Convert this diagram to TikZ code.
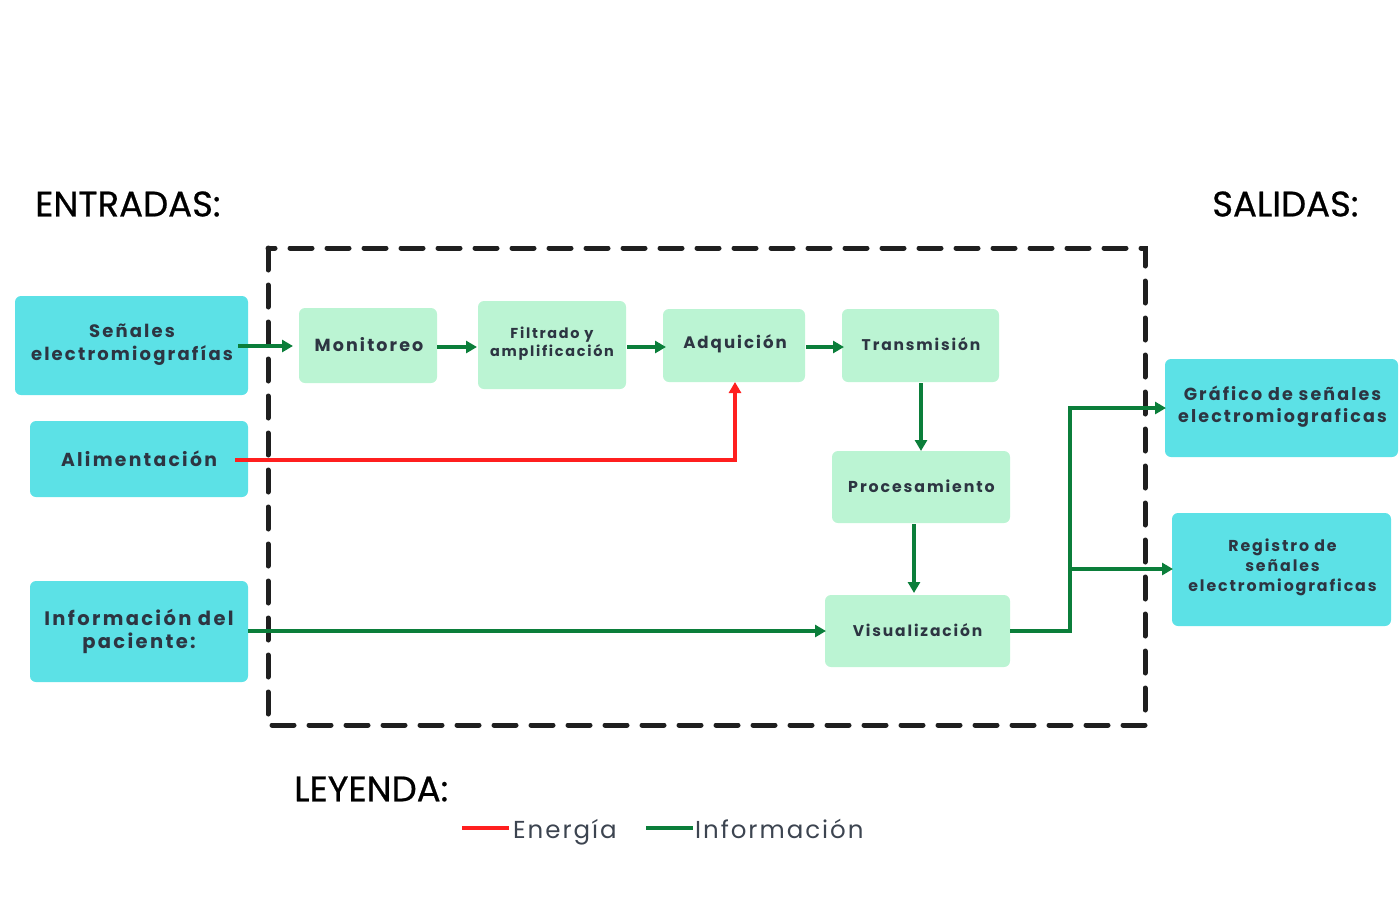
\documentclass[tikz,border=0pt]{standalone}
\usepackage{fontspec}
\setmainfont{Poppins}
\newfontfamily\boxfont[LetterSpace=12]{Poppins}
\newfontfamily\legfont[LetterSpace=8]{Poppins}
\newfontfamily\titlefont[FakeBold=0.6]{Poppins}
\usetikzlibrary{arrows.meta}
\definecolor{cyanbox}{HTML}{5CE1E6}
\definecolor{greenbox}{HTML}{BBF4D3}
\definecolor{infogreen}{HTML}{0B7E3A}
\definecolor{energyred}{HTML}{FF1F1F}
\definecolor{txt}{HTML}{2D3542}
\definecolor{legtxt}{HTML}{3C4450}
\tikzset{
  inbox/.style={fill=cyanbox, rounded corners=6pt},
  procbox/.style={fill=greenbox, rounded corners=6pt},
  lbl/.style={text=txt, align=center, inner sep=0pt},
  info/.style={draw=infogreen, line width=3.3pt, -{Triangle[length=11pt,width=12pt]}},
  energy/.style={draw=energyred, line width=3.3pt, -{Triangle[length=11pt,width=12pt]}},
  title/.style={font=\titlefont\fontsize{35.5}{38}\selectfont, text=black, anchor=west, inner sep=0pt},
  legendtxt/.style={font=\legfont\fontsize{24.5}{26}\selectfont, text=legtxt, anchor=base west, inner sep=0pt},
  border/.style={draw=black!88, line width=5pt, dash pattern=on 22pt off 15pt, line cap=round}
}
\newcommand{\bx}[2]{\boxfont\bfseries\fontsize{#1}{#2}\selectfont}
\begin{document}
\begin{tikzpicture}[x=1pt,y=-1pt]
\useasboundingbox (0,0) rectangle (1400,900);
% system boundary
\draw[border] (268,248) rectangle (1145,725);
% titles
\node[title] (entradas) at (35,204) {ENTRADAS:};
\node[title] (salidas) at (1212,204) {SALIDAS:};
\node[title] (leyenda) at (294,789) {LEYENDA:};
% inputs
\path[inbox] (15,296) rectangle (248,395);
\node[lbl, font=\bx{18}{23}] (senales) at (132,345) {Señales\\electromiografías};
\coordinate (senalesE) at (238,346);
\path[inbox] (30,421) rectangle (248,497);
\node[lbl, font=\bx{18.8}{23}] (alim) at (139,459) {Alimentación};
\coordinate (alimE) at (235,460);
\path[inbox] (30,581) rectangle (248,682);
\node[lbl, font=\bx{19.5}{23}] (infopac) at (139,631) {Información del\\paciente:};
\coordinate (infopacE) at (248,631);
% process boxes
\path[procbox] (299,308) rectangle (437,383);
\node[lbl, font=\bx{17.5}{20}] (monit) at (369,345) {Monitoreo};
\path[procbox] (478,301) rectangle (626,389);
\node[lbl, font=\bx{14.4}{18}] (filt) at (552,344) {Filtrado y\\amplificación};
\path[procbox] (663,309) rectangle (805,382);
\node[lbl, font=\bx{16.6}{19}] (adq) at (735,344) {Adquición};
\path[procbox] (842,309) rectangle (999,382);
\node[lbl, font=\bx{15.5}{18}] (trans) at (921,344) {Transmisión};
\path[procbox] (832,451) rectangle (1010,523);
\node[lbl, font=\bx{15.8}{18}] (proc) at (921.5,486) {Procesamiento};
\path[procbox] (825,595) rectangle (1010,667);
\node[lbl, font=\bx{15.5}{18}] (visu) at (917.5,630) {Visualización};
% outputs
\path[inbox] (1165,359) rectangle (1398,457);
\node[lbl, font=\bx{17.5}{22}] (graf) at (1282.5,407) {Gráfico de señales\\electromiograficas};
\path[inbox] (1172,513) rectangle (1391,626);
\node[lbl, font=\bx{15.8}{20}] (regis) at (1282.5,567) {Registro de\\señales\\electromiograficas};
% anchor coordinates on box edges
\coordinate (monitW) at (293,346);
\coordinate (monitE) at (437,347);
\coordinate (filtW) at (477,347);
\coordinate (filtE) at (627,347);
\coordinate (adqW) at (666,347);
\coordinate (adqE) at (806,347);
\coordinate (adqS) at (735,382);
\coordinate (transW) at (844,347);
\coordinate (transS) at (921,383);
\coordinate (procN) at (921,451);
\coordinate (procS) at (914,524);
\coordinate (visuN) at (914,593);
\coordinate (visuW) at (826,631);
\coordinate (visuE) at (1010,631);
\coordinate (split) at (1070,631);
\coordinate (grafW) at (1166,408);
\coordinate (regisW) at (1173,569);
% connectors
\draw[info] (senalesE) -- (monitW);
\draw[info] (monitE) -- (filtW);
\draw[info] (filtE) -- (adqW);
\draw[info] (adqE) -- (transW);
\draw[info] (transS) -- (procN);
\draw[info] (procS) -- (visuN);
\draw[energy] (alimE) -| (adqS);
\draw[info] (infopacE) -- (visuW);
\draw[info] (visuE) -- (split) |- (grafW);
\draw[info] (split |- regisW) -- (regisW);
% legend
\coordinate (redA) at (462,828);
\coordinate (redB) at (509,828);
\draw[draw=energyred, line width=3.3pt] (redA) -- (redB);
\node[legendtxt] (energia) at (513,838) {Energía};
\coordinate (greenA) at (646,828);
\coordinate (greenB) at (693,828);
\draw[draw=infogreen, line width=3.3pt] (greenA) -- (greenB);
\node[legendtxt] (informacion) at (695,838) {Información};
\end{tikzpicture}
\end{document}
